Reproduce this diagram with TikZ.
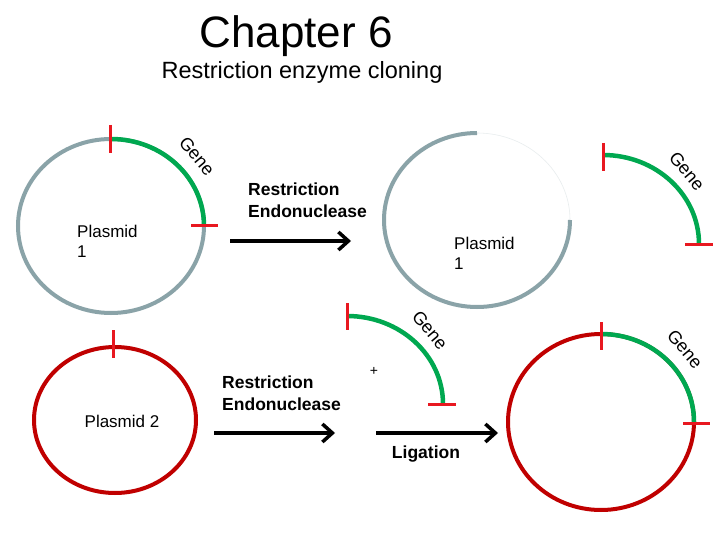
\documentclass[tikz,border=0pt]{standalone}
\usepackage{fontspec}
\setmainfont{Liberation Sans}
\usetikzlibrary{arrows.meta,calc}
\definecolor{pgray}{RGB}{138,163,168}
\definecolor{pred}{RGB}{192,0,0}
\definecolor{tickred}{RGB}{232,24,32}
\definecolor{genegreen}{RGB}{0,168,80}
\begin{document}
\begin{tikzpicture}[x=1pt,y=-1pt,
  plasmidline/.style={line width=4pt},
  grayplasmid/.style={plasmidline, draw=pgray},
  redplasmid/.style={plasmidline, draw=pred},
  genearc/.style={line width=4.5pt, draw=genegreen},
  cut/.style={line width=3pt, draw=tickred},
  steparrow/.style={line width=3.5pt, -{Straight Barb[length=10pt,width=18pt]}},
  genelabel/.style={font=\fontsize{18}{20}\selectfont, rotate=-50, inner sep=0},
  plabel/.style={font=\fontsize{17}{20}\selectfont, align=left, inner sep=0},
  enzlabel/.style={font=\bfseries\fontsize{17.5}{22}\selectfont, align=left, inner sep=0},
]
\useasboundingbox[fill=white] (0,0) rectangle (720,540);

% title
\node[font=\fontsize{44}{48}\selectfont, anchor=base] (title) at (296,48) {Chapter 6};
\node[font=\fontsize{23.5}{26}\selectfont, anchor=base] (subtitle) at (302,79) {Restriction enzyme cloning};

% plasmid 1 (top left)
\coordinate (p1) at (111,226);
\draw[grayplasmid] (p1) ellipse[x radius=93, y radius=87];
\draw[genearc] ($(p1)+(0,-87)$) arc[start angle=-90, end angle=0, x radius=93, y radius=87];
\draw[cut] (110,125) -- (110,153);
\draw[cut] (191,226) -- (218,226);
\node[genelabel] (g1) at (197,156) {Gene};
\node[plabel, anchor=north west] (pl1) at (77,225) {Plasmid\\1};

% arrow 1
\node[enzlabel, anchor=north west] (enz1) at (248,183) {Restriction\\Endonuclease};
\coordinate (a1s) at (230,241);
\coordinate (a1e) at (351,241);
\draw[steparrow] (a1s) -- (a1e);

% cut plasmid 1 (top right)
\coordinate (p1b) at (477,220);
\draw[line width=0.6pt, draw=pgray!20] ($(p1b)+(0,-87)$) arc[start angle=-90, end angle=0, x radius=93, y radius=87];
\draw[grayplasmid] ($(p1b)+(93,0)$) arc[start angle=0, end angle=270, x radius=93, y radius=87];
\node[plabel, anchor=north west] (pl1b) at (454,237) {Plasmid\\1};

% gene fragment (top right)
\coordinate (gf1) at (603,244);
\draw[genearc] ($(gf1)+(0,-89)$) arc[start angle=-90, end angle=0, x radius=96, y radius=89];
\draw[cut] (603,143) -- (603,171);
\draw[cut] (685,244) -- (713,244);
\node[genelabel] (g2) at (687,171) {Gene};

% plasmid 2
\coordinate (p2) at (115,420);
\draw[redplasmid] (p2) ellipse[x radius=81, y radius=73];
\draw[cut] (113,330) -- (113,358);
\node[font=\fontsize{17}{20}\selectfont, anchor=base] (pl2) at (122,427) {Plasmid 2};

% arrow 2
\node[enzlabel, anchor=north west] (enz2) at (222,376) {Restriction\\Endonuclease};
\coordinate (a2s) at (214,433);
\coordinate (a2e) at (335,433);
\draw[steparrow] (a2s) -- (a2e);

% gene fragment (bottom middle)
\coordinate (gf2) at (347,404);
\draw[genearc] ($(gf2)+(0,-88)$) arc[start angle=-90, end angle=0, x radius=96, y radius=88];
\draw[cut] (347,303) -- (347,330);
\draw[cut] (428,404) -- (456,404);
\node[genelabel] (g3) at (430,330) {Gene};
\node[font=\fontsize{14}{16}\selectfont] (plus) at (374,371) {+};

% arrow 3 ligation
\coordinate (a3s) at (376,433);
\coordinate (a3e) at (498,433);
\draw[steparrow] (a3s) -- (a3e);
\node[font=\bfseries\fontsize{17.5}{20}\selectfont, anchor=base] (lig) at (426,458) {Ligation};

% recombinant plasmid (bottom right)
\coordinate (p3) at (601,422);
\draw[redplasmid] (p3) ellipse[x radius=93, y radius=88];
\draw[genearc] ($(p3)+(0,-88)$) arc[start angle=-90, end angle=0, x radius=93, y radius=88];
\draw[cut] (601,322) -- (601,350);
\draw[cut] (683,423) -- (710,423);
\node[genelabel] (g4) at (685,349) {Gene};
\end{tikzpicture}
\end{document}
